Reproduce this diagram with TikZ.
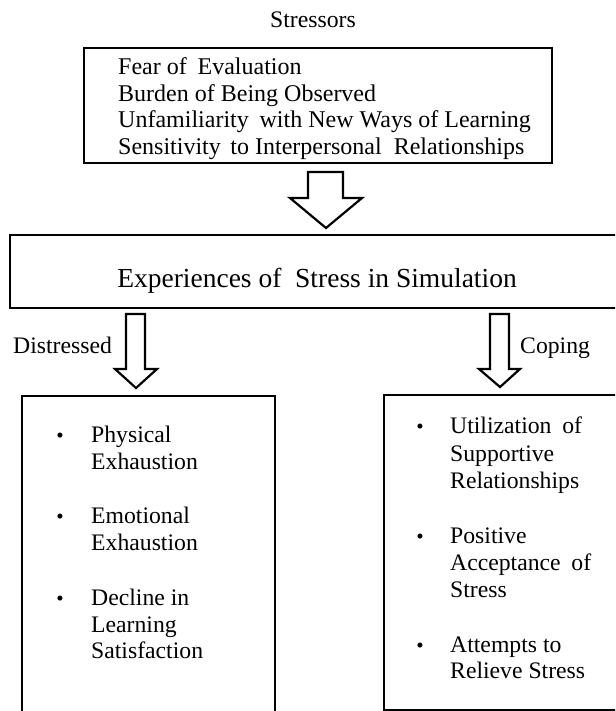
\documentclass[tikz,border=0pt]{standalone}
\usepackage{fontspec}
\setmainfont{Liberation Serif}
\begin{document}
\begin{tikzpicture}[x=1pt,y=-1pt,
  box/.style={draw, line width=2.4pt, inner sep=0pt},
  txt/.style={anchor=base west, inner sep=0pt, font=\fontsize{23.7}{27}\selectfont},
  toptxt/.style={anchor=base west, inner sep=0pt, font=\fontsize{24}{27}\selectfont},
  bul/.style={anchor=base, inner sep=0pt, font=\fontsize{21}{27}\selectfont},
  blockarrow/.style={draw, line width=2.2pt, fill=white, line join=miter},
]
\useasboundingbox (0,0) rectangle (615,711);
\begin{scope}
\clip (0,0) rectangle (615,711);
% title
\node[txt] (stressors) at (270,28) {Stressors};
% stressors box
\node[box, anchor=north west, minimum width=468pt, minimum height=115pt] (sbox) at (83,47) {};
\node[toptxt] (s1) at (118,75) {Fear of\hspace{0.45em}Evaluation};
\node[toptxt] (s2) at (118,102) {Burden of Being Observed};
\node[toptxt] (s3) at (118,128) {Unfamiliarity\hspace{0.45em}with New Ways of Learning};
\node[toptxt] (s4) at (118,155) {Sensitivity\hspace{0.4em}to Interpersonal\hspace{0.5em}Relationships};
% arrow 1
\draw[blockarrow] (308,172) -- (343,172) -- (343,198) -- (362,198) -- (326,228) -- (290,198) -- (308,198) -- cycle;
% experiences box
\node[box, anchor=north west, minimum width=630pt, minimum height=73pt] (ebox) at (9,234) {};
\node[anchor=base, inner sep=0pt, font=\fontsize{27.5}{30}\selectfont] (etitle) at (317,287) {Experiences of\hspace{0.5em}Stress in Simulation};
% side arrows
\draw[blockarrow] (126,314) -- (145,314) -- (145,369) -- (157,369) -- (136,388) -- (115,369) -- (126,369) -- cycle;
\draw[blockarrow] (490,314) -- (509,314) -- (509,369) -- (520,369) -- (500,387) -- (479,369) -- (490,369) -- cycle;
\node[txt] (distr) at (13,353) {Distressed};
\node[txt] (coping) at (520,353) {Coping};
% left box
\node[box, anchor=north west, minimum width=253pt, minimum height=340pt] (lbox) at (21,395) {};
\node[bul] (lb1) at (60,442) {•};
\node[txt] (la1) at (91,442) {Physical};
\node[txt] (la2) at (91,469) {Exhaustion};
\node[bul] (lb2) at (60,523) {•};
\node[txt] (lc1) at (91,523) {Emotional};
\node[txt] (lc2) at (91,550) {Exhaustion};
\node[bul] (lb3) at (60,605) {•};
\node[txt] (ld1) at (91,605) {Decline in};
\node[txt] (ld2) at (91,632) {Learning};
\node[txt] (ld3) at (91,658) {Satisfaction};
% right box
\node[box, anchor=north west, minimum width=260pt, minimum height=315pt] (rbox) at (383,394) {};
\node[bul] (rb1) at (420,433) {•};
\node[txt] (ra1) at (450,433) {Utilization\hspace{0.45em}of};
\node[txt] (ra2) at (450,461) {Supportive};
\node[txt] (ra3) at (450,488) {Relationships};
\node[bul] (rb2) at (420,543) {•};
\node[txt] (rc1) at (450,543) {Positive};
\node[txt] (rc2) at (450,570) {Acceptance\hspace{0.45em}of};
\node[txt] (rc3) at (450,597) {Stress};
\node[bul] (rb3) at (420,652) {•};
\node[txt] (rd1) at (450,652) {Attempts to};
\node[txt] (rd2) at (450,678) {Relieve Stress};
\end{scope}
\end{tikzpicture}
\end{document}
